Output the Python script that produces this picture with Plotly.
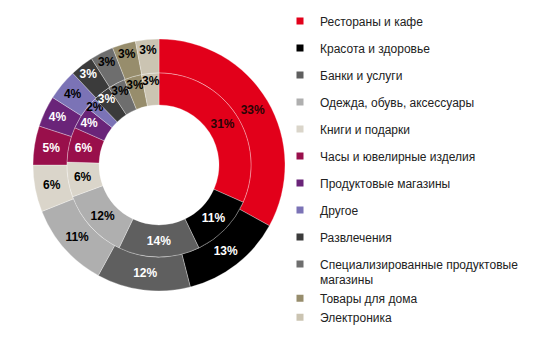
import plotly.graph_objects as go

labels = [
    "Рестораны и кафе",
    "Красота и здоровье",
    "Банки и услуги",
    "Одежда, обувь, аксессуары",
    "Книги и подарки",
    "Часы и ювелирные изделия",
    "Продуктовые магазины",
    "Другое",
    "Развлечения",
    "Специализированные продуктовые<br>магазины",
    "Товары для дома",
    "Электроника",
]
outer_values = [33, 13, 12, 11, 6, 5, 4, 4, 3, 3, 3, 3]
inner_values = [31, 11, 14, 12, 6, 6, 4, 2, 3, 3, 3, 3]

colors = ["#E2001A", "#000000", "#5F5F5F", "#AFAFAF", "#DAD5CA", "#990F4B",
          "#6A2479", "#7B73B6", "#3B3B3B", "#6E6E6E", "#978D6C", "#CBC4B2"]
text_colors = ["#2a0505", "white", "white", "black", "black", "white",
               "white", "black", "white", "black", "black", "black"]
legend_groups = ["g0", "g1", "g2", "g3", "g4", "g5", "g6", "g7", "g8", "g9", "g9", "g9"]

W, H = 542, 341
cx, cy = 159, 165          # centre in px from top-left
r_out, r_mid, r_in = 126, 92, 60

def dom(r):
    return dict(x=[(cx - r) / W, (cx + r) / W],
                y=[(H - cy - r) / H, (H - cy + r) / H])

font_lbl = "Liberation Sans, Arial, sans-serif"

fig = go.Figure()
fig.add_trace(go.Pie(
    labels=labels, values=outer_values, text=[f"<b>{v}%</b>" for v in outer_values],
    textinfo="text", textposition="inside", insidetextorientation="horizontal",
    sort=False, direction="clockwise", rotation=0, hole=r_mid / r_out,
    domain=dom(r_out), marker=dict(colors=colors, line=dict(color="rgba(255,255,255,0.6)", width=0.5)),
    textfont=dict(family=font_lbl, size=12, color=text_colors),
    showlegend=False, hoverinfo="label+text", name="outer",
))
fig.add_trace(go.Pie(
    labels=labels, values=inner_values, text=[f"<b>{v}%</b>" for v in inner_values],
    textinfo="text", textposition="inside", insidetextorientation="horizontal",
    sort=False, direction="clockwise", rotation=0, hole=r_in / r_mid,
    domain=dom(r_mid), marker=dict(colors=colors, line=dict(color="rgba(255,255,255,0.6)", width=0.5)),
    textfont=dict(family=font_lbl, size=12, color=text_colors),
    showlegend=False, hoverinfo="label+text", name="inner",
))

for lab, col, grp in zip(labels, colors, legend_groups):
    fig.add_trace(go.Scatter(
        x=[None], y=[None], mode="markers", name=lab, legendgroup=grp,
        marker=dict(symbol="square", size=7, color=col), hoverinfo="skip",
    ))

fig.update_layout(
    width=W, height=H, margin=dict(l=0, r=0, t=0, b=0),
    paper_bgcolor="white", plot_bgcolor="white",
    xaxis=dict(visible=False), yaxis=dict(visible=False),
    uniformtext=dict(minsize=12, mode="show"),
    font=dict(family=font_lbl),
    legend=dict(x=280 / W, xanchor="left", y=0.98, yanchor="top",
                tracegroupgap=8, itemclick=False, valign="top",
                font=dict(family=font_lbl, size=12, color="#222"),
                bgcolor="rgba(0,0,0,0)"),
)

fig.write_html("out.html")
